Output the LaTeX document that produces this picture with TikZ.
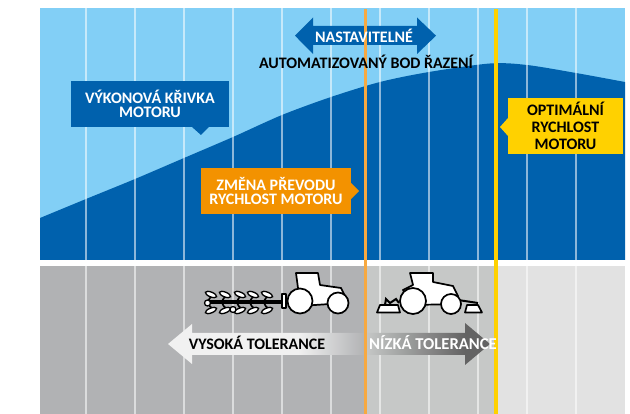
\documentclass[tikz,border=0pt]{standalone}
\usepackage{fontspec}
\setmainfont{Carlito}

\definecolor{skyblue}{HTML}{82CFF6}
\definecolor{darkblue}{HTML}{0061AD}
\definecolor{boxorange}{HTML}{F39200}
\definecolor{lineorange}{HTML}{F7A941}
\definecolor{boxyellow}{HTML}{FFD100}
\definecolor{greyA}{HTML}{B1B2B4}
\definecolor{greyB}{HTML}{C6C8C7}
\definecolor{greyC}{HTML}{E2E2E2}
\definecolor{arrowlight}{HTML}{F1F1F1}
\definecolor{arrowdark}{HTML}{636363}

\pgfdeclarehorizontalshading{fadeleft}{100bp}{color(0bp)=(arrowlight); color(25bp)=(arrowlight); color(58bp)=(arrowlight); color(75bp)=(greyA); color(100bp)=(greyA)}
\pgfdeclarehorizontalshading{fadedark}{100bp}{color(0bp)=(greyB); color(25bp)=(greyB); color(65bp)=(arrowdark); color(75bp)=(arrowdark); color(100bp)=(arrowdark)}

\tikzset{
    label/.style={font=\bfseries\fontsize{16}{14.5}\selectfont, align=center, inner sep=0pt},
    callout/.style={label, text=white},
    gridline/.style={white, opacity=.55, line width=1.2pt},
    tractor/.style={fill=white, draw=black, line width=1.7pt, line join=round},
    wheel/.style={circle, fill=white, draw=black, line width=1.7pt, inner sep=0pt},
    leaf/.style={fill=white, draw=black, line width=1.3pt}
}

\begin{document}
\begin{tikzpicture}[x=1pt,y=-1pt]
    \useasboundingbox (0,0) rectangle (630,414);
    % top panel
    \fill[skyblue] (40,8) rectangle (625,260);
    \fill[darkblue] (40,260) -- plot[smooth] coordinates {(40,218) (86,199) (135,179) (184,158) (233,137) (282,115) (331,97) (380,82) (429,72) (490,63.5) (527,65) (576,73) (625,82)} -- (625,260) -- cycle;
    % bottom panel
    \fill[greyA] (40,266) rectangle (365,414);
    \fill[greyB] (365,266) rectangle (496,414);
    \fill[greyC] (496,266) rectangle (625,414);
    \foreach \x in {86,135,184,233,282,331,380,429,478,527,576}
        \draw[gridline] (\x,8) -- (\x,260) (\x,266) -- (\x,414);

    % tolerance arrows
    \shade[shading=fadeleft] (168,344) -- (192,324) -- (192,333) -- (365,333) -- (365,355) -- (192,355) -- (192,364) -- cycle;
    \shade[shading=fadedark] (490,344) -- (465,323) -- (465,333) -- (365,333) -- (365,355) -- (465,355) -- (465,365) -- cycle;

    % adjustable arrow
    \fill[darkblue] (295,35.7) -- (313,17.5) -- (313,26) -- (417,26) -- (417,17.5) -- (436,35.7) -- (417,54) -- (417,45) -- (313,45) -- (313,54) -- cycle;

    \draw[lineorange, line width=3.4pt] (365.5,9) -- (365.5,414);
    \draw[boxyellow, line width=3.4pt] (496,9) -- (496,414);

    % callouts
    \node[callout, fill=darkblue, minimum width=158pt, minimum height=46pt] (curve) at (150,104) {VÝKONOVÁ KŘIVKA\\MOTORU};
    \fill[darkblue] (192,127) -- (201,135) -- (209,127) -- cycle;
    \node[callout, fill=boxorange, minimum width=150pt, minimum height=46pt] (shift) at (276,191) {ZMĚNA PŘEVODU\\RYCHLOST MOTORU};
    \fill[boxorange] (351,183) -- (359,191) -- (351,199) -- cycle;
    \node[label, font=\bfseries\fontsize{16}{17}\selectfont, fill=boxyellow, minimum width=115pt, minimum height=56pt] (optimal) at (565.5,126) {OPTIMÁLNÍ\\RYCHLOST\\MOTORU};
    \fill[boxyellow] (508,118) -- (500,127) -- (508,136) -- cycle;

    % texts
    \node[callout] (adjust) at (364,35.5) {NASTAVITELNÉ};
    \node[label] (point) at (366,61.5) {AUTOMATIZOVANÝ BOD ŘAZENÍ};
    \node[label] (high) at (257,343) {VYSOKÁ TOLERANCE};
    \node[label, text=white, font=\bfseries\fontsize{16.6}{14.5}\selectfont] (low) at (433,343) {NÍZKÁ TOLERANCE};

    % plough tractor
    \draw[line width=3.5pt] (207,302) -- (282,302);
    \foreach \x in {211,225,240,253,267} {
        \draw[line width=1.7pt] (\x+4,295) .. controls (\x-5,298) and (\x-5,306) .. (\x+4,310);
        \draw[leaf, rotate around={-22:(\x,294.5)}] (\x,294.5) ellipse (6 and 2.4);
        \draw[leaf, rotate around={22:(\x,310.5)}] (\x,310.5) ellipse (6 and 2.4);
    }
    \draw[leaf] (207.5,303) circle (3);
    \draw[leaf] (233,309.5) circle (3);
    \draw[tractor] (282,294) rectangle (286,308);
    \draw[tractor] (297,294) -- (298,288) -- (296,273) -- (318,273) -- (320,285) -- (341,288) -- (345,296) -- (345,303) -- (300,306) -- cycle;
    \node[wheel, minimum size=25pt] (rearA) at (300,301) {};
    \node[wheel, minimum size=21pt] (frontA) at (338,303) {};

    % mower tractor
    \draw[line width=2pt] (385,305) -- (386,299) -- (390,303) -- (396,299) -- (399,303) (458,300) -- (478,303);
    \draw[tractor] (377,312.5) -- (380,305) -- (398,305) -- (400,312.5) -- cycle;
    \draw[tractor] (465,312.5) -- (467,305) -- (478,305) -- (482,312.5) -- cycle;
    \draw[tractor] (403,290) -- (413,285) -- (410,273) -- (433,273) -- (433,282) -- (453,286) -- (458,296) -- (458,304) -- (413,305) -- cycle;
    \node[wheel, minimum size=26pt] (rearB) at (413,301) {};
    \node[wheel, minimum size=20pt] (frontB) at (451,304) {};
\end{tikzpicture}
\end{document}
